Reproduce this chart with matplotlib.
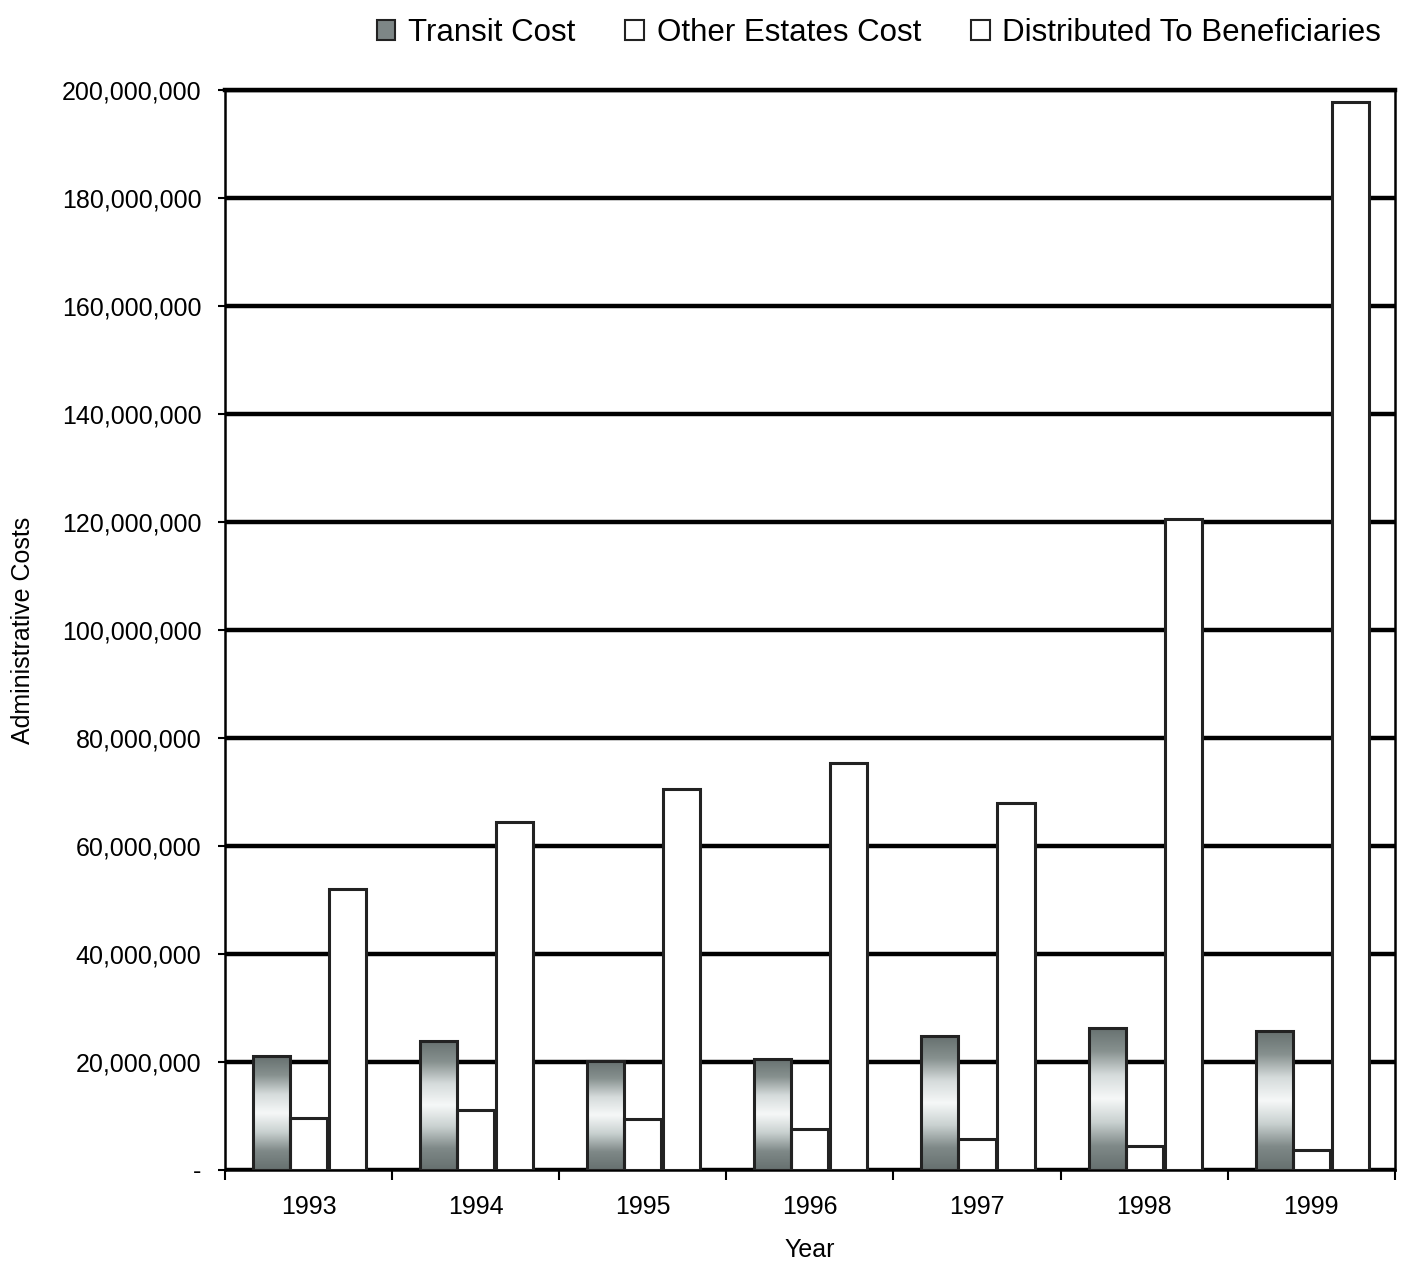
import numpy as np
import matplotlib.pyplot as plt
from matplotlib.patches import Patch
from matplotlib.colors import LinearSegmentedColormap
from matplotlib.ticker import FuncFormatter, FixedLocator

years = ['1993', '1994', '1995', '1996', '1997', '1998', '1999']
transit_cost = [21.1e6, 23.9e6, 20.2e6, 20.6e6, 24.8e6, 26.3e6, 25.7e6]
other_estates_cost = [9.6e6, 11.1e6, 9.4e6, 7.6e6, 5.7e6, 4.4e6, 3.7e6]
distributed = [52.0e6, 64.4e6, 70.6e6, 75.4e6, 68.0e6, 120.6e6, 197.8e6]
series_names = ['Transit Cost', 'Other Estates Cost', 'Distributed To Beneficiaries']

plt.rcParams['font.family'] = ['Liberation Sans', 'DejaVu Sans']

fig = plt.figure(figsize=(14.05, 12.68), dpi=100)
ax = fig.add_axes([0.1601, 0.0773, 0.8327, 0.8517])

x = np.arange(len(years))
width = 0.222

# shaded fill for the transit bars: dark at both ends, pale in the middle
shade = LinearSegmentedColormap.from_list(
    'shade', ['#66706f', '#7f8988', '#c9d1d0', '#f6f8f8', '#d5dbdb', '#87918f', '#66706f'])
grad = np.linspace(0, 1, 256).reshape(-1, 1)

bars_t = ax.bar(x - 0.222, transit_cost, width, facecolor='none',
                edgecolor='#222222', linewidth=2.2, zorder=4)
for b in bars_t:
    x0, w, h = b.get_x(), b.get_width(), b.get_height()
    ax.imshow(grad, extent=[x0, x0 + w, 0, h], origin='lower', aspect='auto',
              cmap=shade, zorder=3, interpolation='bicubic')

ax.bar(x, other_estates_cost, width, facecolor='white',
       edgecolor='#222222', linewidth=2.2, zorder=3)
ax.bar(x + 0.233, distributed, width, facecolor='white',
       edgecolor='#222222', linewidth=2.2, zorder=3)

ax.set_xlim(-0.5, len(years) - 0.5)
ax.set_ylim(0, 200e6)

# y axis: heavy black gridlines every 20 million
ax.yaxis.set_major_locator(FixedLocator(np.arange(0, 200e6 + 1, 20e6)))
ax.yaxis.set_major_formatter(FuncFormatter(lambda v, p: '-' if v == 0 else f'{int(v):,}'))
ax.grid(axis='y', color='black', linewidth=3.2, zorder=1)
ax.set_axisbelow(True)
ax.tick_params(axis='y', length=5, width=1.5, pad=12, labelsize=18)

# x axis: year labels centred, tick marks between categories
ax.set_xticks(x)
ax.set_xticklabels(years)
ax.set_xticks(np.arange(-0.5, len(years)), minor=True)
ax.tick_params(axis='x', which='major', length=0, pad=18, labelsize=18)
ax.tick_params(axis='x', which='minor', length=7, width=1.5)

for side in ['left', 'right', 'bottom']:
    ax.spines[side].set_linewidth(1.8)
ax.spines['top'].set_linewidth(3.2)

ax.set_xlabel('Year', fontsize=18, labelpad=14)
ax.set_ylabel('Administrative Costs', fontsize=18, labelpad=19)

handles = [
    Patch(facecolor='#7d8686', edgecolor='#222222', linewidth=1.5),
    Patch(facecolor='white', edgecolor='#222222', linewidth=1.5),
    Patch(facecolor='white', edgecolor='#222222', linewidth=1.5),
]
fig.legend(handles, series_names, loc='center right', bbox_to_anchor=(0.983, 0.974),
           ncol=3, frameon=False, handlelength=0.6, handleheight=0.6,
           handletextpad=0.4, columnspacing=1.6, borderpad=0, borderaxespad=0,
           prop={'size': 22.5})

fig.savefig('out.png', dpi=100, facecolor='white')
